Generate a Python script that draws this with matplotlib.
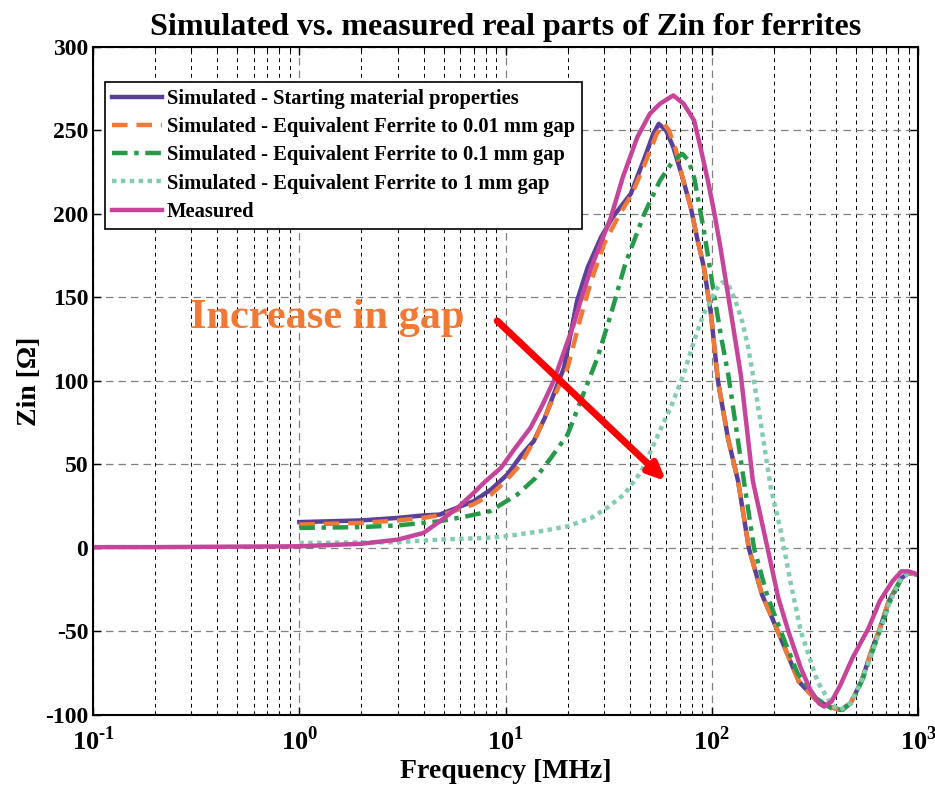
import matplotlib
matplotlib.use("Agg")
import matplotlib.pyplot as plt
import numpy as np
from matplotlib.ticker import FuncFormatter, LogLocator, NullFormatter

plt.rcParams['font.family'] = ['Liberation Serif', 'DejaVu Serif']
plt.rcParams['font.weight'] = 'bold'
plt.rcParams['mathtext.fontset'] = 'custom'
plt.rcParams['mathtext.rm'] = 'Liberation Serif:bold'
plt.rcParams['mathtext.bf'] = 'Liberation Serif:bold'
plt.rcParams['axes.unicode_minus'] = False

# Data (frequency in MHz, Zin in Ohm)
f_meas = [0.1, 0.2, 0.5, 1, 2, 3, 4, 4.8, 5.85, 7, 8, 9.5, 11, 13.2, 15, 17.1, 19, 21.4,
          23.1, 26, 29, 32.4, 37, 43.5, 50, 56, 65, 73, 82, 88, 95.6, 103, 110, 124, 138,
          158, 186, 210, 235, 270, 300, 330, 350, 380, 420, 480, 575, 650, 750, 830, 900, 1000]
z_meas = [0.5, 0.5, 0.8, 1, 2.5, 5, 9, 16, 24, 33, 40, 48, 59, 72, 85, 100, 116, 134,
          148, 168, 183, 198, 222, 246, 260, 266, 271, 266, 256, 240, 220, 200, 180, 140, 104,
          40, 0, -30, -50, -72, -85, -93, -95, -92, -82, -66, -48, -32, -20, -14, -14, -16]

f_start = [1, 2, 3, 4, 4.8, 7, 8.5, 10.2, 12, 13.7, 15.5, 17.1, 19.2, 22.2, 25, 29, 33,
           40.4, 47, 52, 55.3, 60, 65, 72, 79, 85, 91.5, 99, 107, 120, 134, 151, 175, 209,
           264, 320, 370, 423, 470, 530, 600, 645, 720, 830, 900, 1000]
z_start = [15.5, 16.5, 18, 19.5, 20, 28, 35, 44, 56, 64, 78, 92, 108, 148, 168, 186, 198,
           212, 233, 248, 254, 250, 240, 222, 204, 185, 168, 140, 100, 65, 40, 0, -28, -50,
           -80, -91, -95, -97, -93, -80, -60, -50, -32, -18, -15, -16]

f_001 = [1, 2, 3, 4, 5, 6.95, 8.5, 10, 11.8, 14, 16.5, 20, 23.1, 26, 30, 35, 41, 48, 54,
         58.5, 62, 67, 72, 79, 85, 91.5, 99, 107, 120, 134, 151, 175, 209, 264, 320, 370,
         423, 470, 530, 600, 645, 720, 830, 900, 1000]
z_001 = [14, 15, 16.5, 18, 20, 26, 32, 40, 50, 66, 86, 108, 138, 160, 182, 198, 212, 232,
         248, 254, 250, 238, 222, 204, 185, 168, 140, 100, 65, 40, 0, -28, -50, -80, -91,
         -95, -97, -93, -80, -60, -50, -32, -18, -15, -16]

f_01 = [1, 2, 3, 4.8, 6.5, 8.4, 11.4, 14, 16.6, 20, 23.1, 27.9, 32.4, 38, 47, 56, 65, 72,
        77, 82, 91.5, 103, 111, 120, 143, 160, 185, 216, 260, 320, 380, 430, 480, 540, 600,
        650, 730, 830, 900, 1000]
z_01 = [12, 12.5, 13.5, 16, 19, 22, 32, 42, 54, 68, 88, 114, 140, 170, 200, 220, 232, 236,
        232, 222, 190, 150, 126, 104, 40, 0, -28, -50, -75, -90, -96, -97, -92, -78, -62,
        -50, -32, -18, -15, -16]

f_1 = [1, 3, 4.8, 8, 10, 14.8, 20, 26, 31, 37.5, 45.6, 55, 64, 73, 82, 91, 97, 105, 112,
       120, 130, 140, 150, 159, 175, 193, 216, 240, 270, 325, 380, 420, 470, 530, 600, 650,
       730, 830, 900, 1000]
z_1 = [3, 3.5, 5, 6, 7, 10, 13, 18, 24, 32, 46, 68, 86, 104, 124, 140, 146, 155, 159,
       158, 148, 136, 120, 102, 70, 36, 10, -20, -50, -80, -94, -97, -93, -80, -62, -50,
       -32, -18, -15, -16]

labels = ['Simulated - Starting material properties',
          'Simulated - Equivalent Ferrite to 0.01 mm gap',
          'Simulated - Equivalent Ferrite to 0.1 mm gap',
          'Simulated - Equivalent Ferrite to 1 mm gap',
          'Measured']

lw = 3.2
fig = plt.figure(figsize=(9.35, 7.9), dpi=100)
ax = fig.add_axes([0.0995, 0.095, 0.8825, 0.8455])

ax.plot(f_start, z_start, color='#5b3f99', linestyle='-', linewidth=lw, label=labels[0])
ax.plot(f_001, z_001, color='#f07a35', linestyle=(0, (3.5, 2)), linewidth=lw, label=labels[1])
ax.plot(f_01, z_01, color='#259a48', linestyle=(0, (3.5, 1.5, 1, 1.5)), linewidth=lw, label=labels[2])
ax.plot(f_1, z_1, color='#82ccb2', linestyle=(0, (1, 1)), linewidth=lw, label=labels[3])
ax.plot(f_meas, z_meas, color='#c6449a', linestyle='-', linewidth=lw, label=labels[4])

ax.set_xscale('log')
ax.set_xlim(0.1, 1000)
ax.set_ylim(-100, 300)
ax.set_yticks(np.arange(-100, 301, 50))
ax.yaxis.set_major_formatter(FuncFormatter(lambda v, p: '%d' % v))
ax.xaxis.set_minor_locator(LogLocator(base=10, subs=np.arange(2, 10), numticks=20))
ax.xaxis.set_minor_formatter(NullFormatter())
ax.xaxis.set_major_formatter(FuncFormatter(lambda v, p: r'$10^{\text{%d}}$' % round(np.log10(v))))

ax.grid(which='major', color='#808080', linestyle=(0, (6, 4)), linewidth=0.9)
ax.grid(which='minor', axis='x', color='black', linestyle=(0, (4, 4)), linewidth=0.7)
ax.tick_params(which='both', direction='in', top=True, right=True, labelsize=17)
ax.tick_params(which='major', length=6, width=1)
ax.tick_params(which='minor', length=3, width=0.8)
ax.tick_params(axis='x', pad=8, labelsize=19)
for s in ax.spines.values():
    s.set_linewidth(1.5)

ax.set_xlabel('Frequency [MHz]', fontsize=20, fontweight='bold', labelpad=3)
ax.set_ylabel('Zin [\u03a9]', fontsize=20, fontweight='bold', labelpad=2)
ax.set_title('Simulated vs. measured real parts of Zin for ferrites', fontsize=23,
             fontweight='bold', pad=9)

leg = ax.legend(loc='upper left', bbox_to_anchor=(0.0145, 0.948), borderaxespad=0,
                fontsize=14.8, handlelength=2.4, fancybox=False, framealpha=1,
                edgecolor='black', labelspacing=0.4, handletextpad=0.25, borderpad=0.35)
leg.get_frame().set_linewidth(1.2)

ax.text(0.295, 138, 'Increase in gap', color='#f07a35', fontsize=30.5, fontweight='bold',
        va='center', ha='left')
ax.annotate('', xy=(60, 40), xytext=(9.1, 136),
            arrowprops=dict(arrowstyle='-|>,head_length=1.0,head_width=0.45',
                            color='#ff0000', linewidth=5, shrinkA=0, shrinkB=0))

fig.savefig('out.png', dpi=100)
